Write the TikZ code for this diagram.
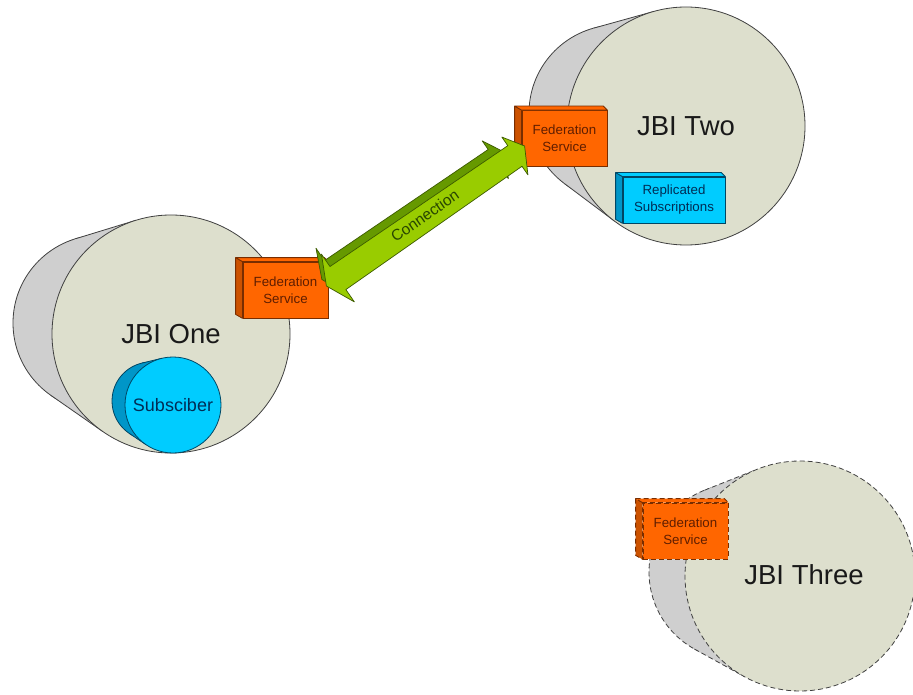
\documentclass[tikz,border=0pt]{standalone}
\usepackage{fontspec}
\setmainfont{Liberation Sans}
\usetikzlibrary{calc}

\definecolor{drumface}{RGB}{221,223,205}
\definecolor{drumback}{RGB}{207,207,207}
\definecolor{edge}{RGB}{64,64,64}
\definecolor{fedfront}{RGB}{255,102,0}
\definecolor{fedside}{RGB}{204,82,0}
\definecolor{fededge}{RGB}{120,45,0}
\definecolor{fedtext}{RGB}{95,30,0}
\definecolor{cyanfront}{RGB}{0,204,255}
\definecolor{cyanside}{RGB}{0,150,200}
\definecolor{cyanedge}{RGB}{0,70,100}
\definecolor{cyantext}{RGB}{0,45,85}
\definecolor{greenlight}{RGB}{153,204,0}
\definecolor{greendark}{RGB}{102,153,0}
\definecolor{greenedge}{RGB}{60,90,0}
\definecolor{greentext}{RGB}{40,70,0}

% Side wall of a drum: back disc plus the band joining it to the front disc.
% #1 back colour, #2 line style, #3-#5 back centre x, y and radius,
% #6-#8 front centre x, y and radius.
\newcommand\drumwall[8]{%
  \pgfmathsetmacro\dDX{#6-#3}%
  \pgfmathsetmacro\dDY{#7-#4}%
  \pgfmathsetmacro\dD{veclen(\dDX,\dDY)}%
  \pgfmathsetmacro\dA{atan2(\dDY,\dDX)}%
  \pgfmathsetmacro\dB{acos((#5-#8)/\dD)}%
  \pgfmathsetmacro\dPa{\dA+\dB}%
  \pgfmathsetmacro\dPb{\dA-\dB}%
  \fill[#1] (#3,#4) circle[radius=#5];
  \draw[outl,#2] (#3,#4) circle[radius=#5];
  \fill[#1] ({#3+#5*cos(\dPa)},{#4+#5*sin(\dPa)})
     -- ({#6+#8*cos(\dPa)},{#7+#8*sin(\dPa)})
     -- ({#6+#8*cos(\dPb)},{#7+#8*sin(\dPb)})
     -- ({#3+#5*cos(\dPb)},{#4+#5*sin(\dPb)}) -- cycle;
  \draw[outl,#2] ({#3+#5*cos(\dPa)},{#4+#5*sin(\dPa)})
     -- ({#6+#8*cos(\dPa)},{#7+#8*sin(\dPa)})
     ({#3+#5*cos(\dPb)},{#4+#5*sin(\dPb)})
     -- ({#6+#8*cos(\dPb)},{#7+#8*sin(\dPb)});
}

% A box seen in perspective: front face node with a left and a top face.
% #1 name, #2 front style, #3 left face style, #4 top face style, #5 position, #6 text
\newcommand\crate[6]{%
  \node[#2] (#1) at #5 {#6};
  \filldraw[#3] (#1.north west) -- ++(-7,-4)
     -- ($(#1.south west)+(-7,-4)$) -- (#1.south west) -- cycle;
  \filldraw[#4] (#1.north west) -- ++(-7,-4)
     -- ($(#1.north east)+(-4,-4)$) -- (#1.north east) -- cycle;
}

\tikzset{
  outl/.style={draw=edge, line width=0.8pt},
  dashline/.style={dash pattern=on 5pt off 3pt},
  jbi/.style={circle, fill=drumface, draw=edge, line width=0.8pt, inner sep=0pt,
    font=\fontsize{27.5}{30}\selectfont, text=black!90},
  subfront/.style={circle, fill=cyanfront, draw=cyanedge, line width=0.8pt, inner sep=0pt,
    minimum size=96, font=\fontsize{18}{21}\selectfont, text=cyantext},
  fedbox/.style={rectangle, fill=fedfront, draw=fededge, line width=0.8pt, inner sep=0pt,
    minimum width=85, minimum height=56, align=center,
    font=\fontsize{13.3}{17}\selectfont, text=fedtext},
  fedleft/.style={fill=fedside, draw=fededge, line width=0.8pt, line join=round},
  fedtop/.style={fill=fedfront, draw=fededge, line width=0.8pt, line join=round},
  repbox/.style={rectangle, fill=cyanfront, draw=cyanedge, line width=0.8pt, inner sep=0pt,
    minimum width=102, minimum height=46, align=center,
    font=\fontsize{13.3}{17}\selectfont, text=cyantext},
  repleft/.style={fill=cyanside, draw=cyanedge, line width=0.8pt, line join=round},
  reptop/.style={fill=cyanfront, draw=cyanedge, line width=0.8pt, line join=round},
  arrowface/.style={fill=greenlight, draw=greenedge, line width=0.7pt, line join=round},
  arrowdepth/.style={fill=greendark, draw=greenedge, line width=0.7pt, line join=round},
  context/.style={font=\fontsize{15.5}{17}\selectfont, text=greentext, inner sep=0pt},
}

\begin{document}
\begin{tikzpicture}[x=1pt, y=-1pt]
  \useasboundingbox[fill=white] (0,0) rectangle (913,695);

  % JBI Two
  \drumwall{drumback}{}{617}{113}{88}{686}{126}{119}
  \node[jbi, minimum size=238] (two) at (686,126) {JBI Two};
  \crate{rep}{repbox}{repleft}{reptop}{(674,200)}{Replicated\\Subscriptions}
  \crate{fs2}{fedbox}{fedleft}{fedtop}{(564.5,138.5)}{Federation\\Service}

  % JBI One with its subscriber
  \drumwall{drumback}{}{101}{323}{88}{171}{334}{119}
  \node[jbi, minimum size=238] (one) at (171,334) {JBI One};
  \drumwall{cyanside}{draw=cyanedge}{151}{401}{39}{173}{405}{48}
  \node[subfront] (sub) at (173,405) {Subsciber};
  \crate{fs1}{fedbox}{fedleft}{fedtop}{(285.5,290)}{Federation\\Service}

  % JBI Three, not yet federated
  \drumwall{drumback}{dashline}{737}{572}{88}{800}{576}{115}
  \node[jbi, dashline, minimum size=230] (three) at (800,576) {};
  \node[font=\fontsize{27.5}{30}\selectfont, text=black!90, inner sep=0pt]
    (threelabel) at (804,575) {JBI Three};
  \crate{fs3}{fedbox, dashline}{fedleft, dashline}{fedtop, dashline}{(685.5,531)}{Federation\\Service}

  % Connection between the two federation services
  \coordinate (ca) at ($(fs1.east)+(-2,-4)$);
  \coordinate (cb) at ($(fs2.west)+(3,7.5)$);
  \begin{scope}[shift={(ca)}, rotate=34.6, x={(1pt,0pt)}, y={(0pt,1pt)}]
    \begin{scope}[shift={(0pt,8pt)}, xscale=0.92]
      \path[arrowdepth] (0,0) -- (14,29) -- (14,14) -- (229,12.5) -- (229,23)
        -- (242.5,0) -- (229,-23) -- (229,-12.5) -- (14,-14) -- (14,-29) -- cycle;
    \end{scope}
    \path[arrowface] (ca) -- (14,29) -- (14,14) -- (229,12.5) -- (229,23)
      -- (cb) -- (229,-23) -- (229,-12.5) -- (14,-14) -- (14,-29) -- cycle;
    \node[context, transform shape] (conlabel) at (121,2) {Connection};
  \end{scope}
\end{tikzpicture}
\end{document}
